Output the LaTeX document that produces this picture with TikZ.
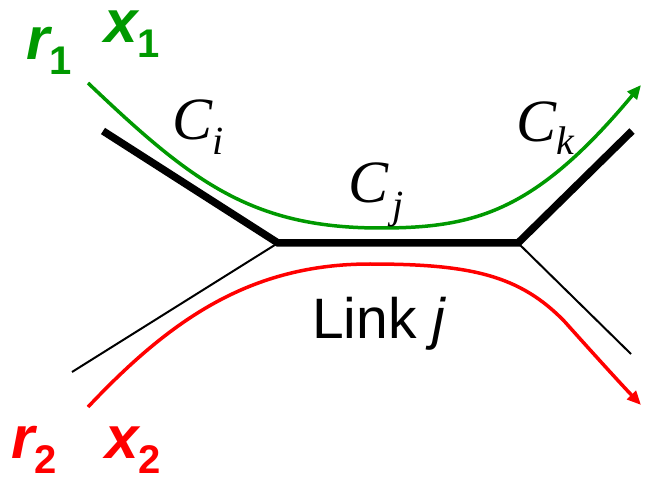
\documentclass[tikz,border=0pt]{standalone}
\usepackage{fontspec}
\setmainfont{Liberation Sans}
\newfontfamily\arialf{Liberation Sans}
\newfontfamily\tnrf{Liberation Serif}
\usetikzlibrary{arrows.meta}
\definecolor{grn}{RGB}{0,153,0}
\definecolor{rd}{RGB}{255,0,0}
\tikzset{
  thickseg/.style={line width=7.5pt, line join=miter},
  thinseg/.style={line width=2pt},
  route/.style={line width=3.5pt, -{Triangle[length=14pt,width=12pt]}},
  lab/.style={anchor=base west, inner sep=0pt, outer sep=0pt},
}
\newcommand{\bigfs}{\fontsize{60}{60}\selectfont}
\newcommand{\subfs}{\fontsize{40}{40}\selectfont}
\newcommand{\lsub}[2]{\raisebox{-#1pt}{\subfs #2}}
\begin{document}
\begin{tikzpicture}[x=1pt,y=-1pt]
\useasboundingbox (0,0) rectangle (645,478);
% junction coordinates
\coordinate (a) at (103,131);
\coordinate (b) at (278,243);
\coordinate (c) at (518,243);
\coordinate (d) at (632,131);
\coordinate (e) at (72,372);
\coordinate (f) at (631,354);
\coordinate (g0) at (88,83);
\coordinate (g1) at (380,228);
\coordinate (g2) at (641,85);
\coordinate (r0) at (88,407);
\coordinate (r1c) at (370,264);
\coordinate (r2c) at (565,322);
\coordinate (r3) at (641,405);
% thin lines
\draw[thinseg] (e) -- (b);
\draw[thinseg] (c) -- (f);
% thick path
\draw[thickseg] (a) -- (b) -- (c) -- (d);
% green route
\draw[route, grn] (g0) .. controls (190,180) and (250,228) .. (g1)
   .. controls (475,228) and (535,212) .. (g2);
% red route
\draw[route, rd] (r0) .. controls (170,320) and (250,264) .. (r1c)
   .. controls (470,264) and (520,275) .. (r2c)
   .. controls (590,350) and (620,383) .. (r3);
% labels
\node[lab, text=grn] (lr1) at (26,60) {\arialf\bigfs\bfseries\itshape r\lsub{15}{\upshape 1}};
\node[lab, text=grn] (lx1) at (104,43) {\arialf\bigfs\bfseries\itshape x\lsub{15}{\upshape 1}};
\node[lab, text=rd] (lr2) at (11,458) {\arialf\bigfs\bfseries\itshape r\lsub{15}{\upshape 2}};
\node[lab, text=rd] (lx2) at (105,458) {\arialf\bigfs\bfseries\itshape x\lsub{15}{\upshape 2}};
\node[lab] (ci) at (172,140) {\tnrf\bigfs\itshape C\lsub{15}{i}};
\node[lab] (cj) at (348,203) {\tnrf\bigfs\itshape C\hspace{4pt}\lsub{16}{j}};
\node[lab] (ck) at (516,142) {\tnrf\bigfs\itshape C\lsub{13}{k}};
\node[lab] (link) at (312,338) {\arialf\fontsize{57}{57}\selectfont Link \itshape j};
\end{tikzpicture}
\end{document}
